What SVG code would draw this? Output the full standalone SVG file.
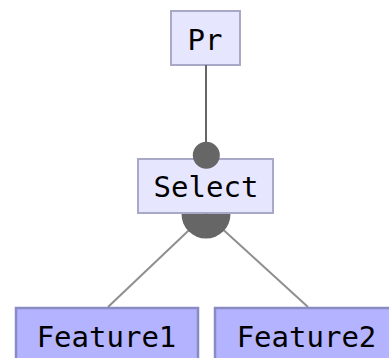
<svg xmlns="http://www.w3.org/2000/svg" width="389" height="358" viewBox="0 0 389 358">
  <style>
    .lbl { font-family: "DejaVu Sans Mono", "Liberation Mono", monospace; font-size: 29px; fill: #000; text-anchor: middle; }
    .plain rect { fill: #e6e6ff; stroke: #a8a8c8; stroke-width: 2; }
    .leaf rect { fill: #b3b3ff; stroke: #8a8ac4; stroke-width: 2.5; }
    .edge { stroke: #666; stroke-width: 2; fill: none; }
    .child { stroke: #8f8f8f; stroke-width: 2; fill: none; }
    .dot { fill: #666; }
  </style>
  <rect width="389" height="358" fill="#fff"/>

  <g id="pr" class="plain">
    <rect x="171" y="11" width="69" height="54"/>
    <text class="lbl" x="205" y="50">Pr</text>
  </g>

  <g id="select" class="plain">
    <rect x="138" y="159" width="135" height="54"/>
    <text class="lbl" x="206" y="197">Select</text>
  </g>

  <g id="feature1" class="leaf">
    <rect x="16" y="308" width="182" height="60"/>
    <text class="lbl" x="106.5" y="347">Feature1</text>
  </g>

  <g id="feature2" class="leaf">
    <rect x="215" y="308" width="182" height="60"/>
    <text class="lbl" x="306.5" y="347">Feature2</text>
  </g>

  <g id="connectors">
    <line class="edge" x1="206" y1="65" x2="206" y2="155"/>
    <circle class="dot" cx="206.3" cy="155.3" r="13.5"/>
    <line class="child" x1="206" y1="214" x2="108" y2="307"/>
    <line class="child" x1="206" y1="214" x2="308" y2="307"/>
    <path class="dot" d="M181.5,214 A24.5,24.5 0 0 0 230.5,214 Z"/>
  </g>
</svg>
